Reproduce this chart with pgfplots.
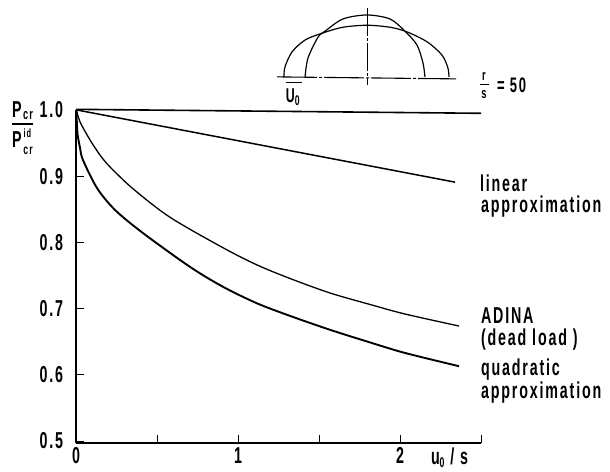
\documentclass[border=0pt]{standalone}
\usepackage{fontspec}
\setmainfont[FakeStretch=0.62,LetterSpace=8]{Liberation Sans}
\usepackage{pgfplots}
\pgfplotsset{compat=1.18}
\newcommand\lab[3]{\node[anchor=west,inner sep=0pt,outer sep=0pt] at ({#1pt-76pt},{443pt-#2pt}) {#3};}
\newcommand\labc[3]{\node[anchor=center,inner sep=0pt,outer sep=0pt] at ({#1pt-76pt},{443pt-#2pt}) {#3};}
\begin{document}
\begin{tikzpicture}
\bfseries\fontsize{23}{23}\selectfont
\useasboundingbox (-76pt,-28pt) rectangle (534pt,443pt);
\begin{axis}[
  at={(0,0)},anchor=south west,
  scale only axis,width=405pt,height=333pt,
  xmin=0,xmax=2.5,ymin=0.497,ymax=1.0,
  axis lines=left,axis line style={-,line width=1.3pt},
  clip=false,
  xtick={0,0.5,1,1.5,2,2.5},xticklabels={0,,1,,2,},
  ytick={0.5,0.6,0.7,0.8,0.9,1.0},
  tick align=inside,
  major tick length=8pt,
  tick style={line width=1pt,black},
  /pgf/number format/assume math mode=true,
  /pgf/number format/fixed,/pgf/number format/fixed zerofill,/pgf/number format/precision=1,
  tick label style={font=\bfseries\fontsize{23}{23}\selectfont},
  yticklabel style={xshift=-5pt},
  xticklabel style={yshift=3pt},
]
% ideal
\addplot[black,no marks,line width=1.6pt] coordinates {(0,1.001)(2.5,0.995)};
% linear approximation
\addplot[black,no marks,line width=1.5pt] coordinates {(0.006,1.0)(2.340,0.891)};
% ADINA
\addplot[black,no marks,smooth,line width=1.3pt] coordinates {(0.003,1.0)(0.025,0.982)(0.086,0.955)(0.148,0.932)(0.210,0.914)(0.352,0.881)(0.580,0.838)(0.907,0.792)(1.117,0.766)(1.321,0.7455)(1.568,0.7236)(1.827,0.7054)(2.031,0.6918)(2.364,0.6737)};
% quadratic approximation
\addplot[black,no marks,smooth,line width=1.9pt] coordinates {(0.003,0.997)(0.009,0.965)(0.025,0.9426)(0.043,0.9245)(0.130,0.882)(0.241,0.849)(0.414,0.814)(0.704,0.763)(0.907,0.733)(1.117,0.708)(1.321,0.689)(1.568,0.668)(1.827,0.648)(2.031,0.633)(2.364,0.613)};
% dome sketch
\addplot[black,no marks,smooth,line width=1.2pt] coordinates {(1.414,1.050)(1.432,1.0785)(1.494,1.110)(1.537,1.119)(1.648,1.1375)(1.796,1.1435)(1.938,1.1375)(2.031,1.119)(2.105,1.098)(2.142,1.071)(2.154,1.050)};
\addplot[black,no marks,smooth,line width=1.2pt] coordinates {(1.284,1.050)(1.290,1.065)(1.333,1.0876)(1.414,1.1057)(1.519,1.116)(1.648,1.125)(1.796,1.128)(1.938,1.125)(2.043,1.118)(2.167,1.103)(2.259,1.083)(2.296,1.0634)(2.302,1.050)};
\addplot[black,no marks,line width=0.9pt,dash pattern=on 28pt off 2pt on 3pt off 2pt] coordinates {(1.796,1.154)(1.796,1.038)};
\addplot[black,no marks,line width=1.1pt,dash pattern=on 40pt off 2pt on 3pt off 2pt] coordinates {(1.241,1.050)(2.346,1.047)};
\addplot[black,no marks,line width=1pt] coordinates {(1.296,1.041)(1.395,1.041)};
\end{axis}
\labc{17}{110}{\fontsize{23}{23}\selectfont P}
\labc{28}{116}{\fontsize{15}{15}\selectfont cr}
\labc{17}{140}{\fontsize{23}{23}\selectfont P}
\labc{27.5}{133}{\fontsize{12}{12}\selectfont id}
\labc{28}{151}{\fontsize{14}{14}\selectfont cr}
\draw[line width=1.2pt] (12pt-76pt,443pt-124pt) -- (33pt-76pt,443pt-124pt);
\labc{293}{97}{\fontsize{20}{20}\selectfont U\textsubscript{0}}
\node[inner sep=0pt] at (484pt-76pt,443pt-76pt) {\fontsize{15}{15}\selectfont r};
\node[inner sep=0pt] at (484pt-76pt,443pt-95pt) {\fontsize{15}{15}\selectfont s};
\draw[line width=1pt] (480pt-76pt,443pt-85pt) -- (489pt-76pt,443pt-85pt);
\lab{497}{85}{\fontsize{21}{21}\selectfont = 50}
\lab{480}{183}{linear}
\lab{481}{207}{approximation}
\lab{481}{316}{ADINA}
\lab{481}{340}{(dead load )}
\lab{481}{370}{quadratic}
\lab{481}{393}{approximation}
\lab{431}{458}{u\raisebox{-0.15em}{\fontsize{14}{14}\selectfont 0} / s}
\end{tikzpicture}
\end{document}
